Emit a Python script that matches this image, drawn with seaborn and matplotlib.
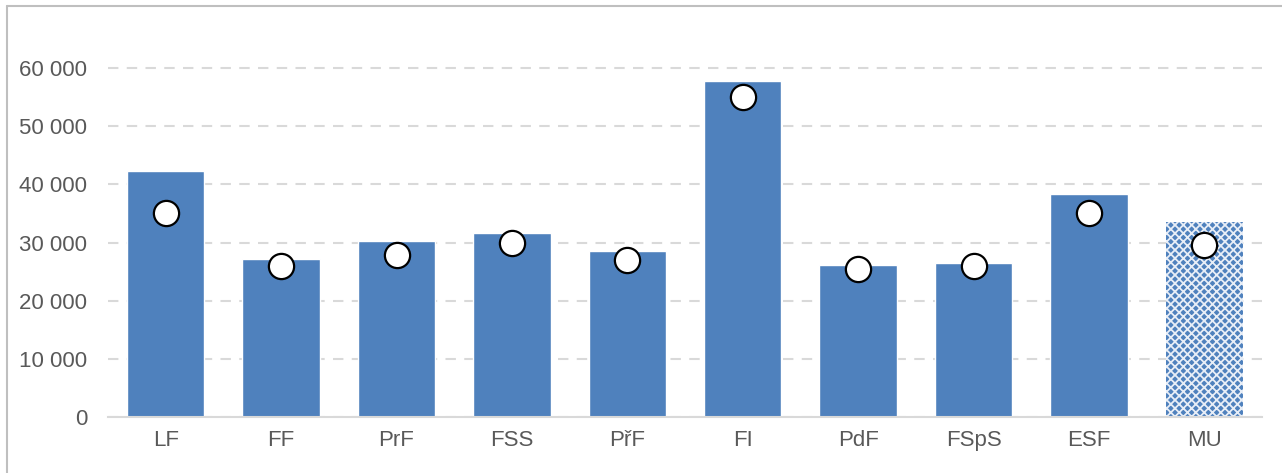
import matplotlib

matplotlib.use("Agg")

import matplotlib.pyplot as plt  # noqa: E402
import pandas as pd  # noqa: E402
import seaborn as sns  # noqa: E402
from matplotlib.lines import Line2D  # noqa: E402
from matplotlib.ticker import FuncFormatter  # noqa: E402

faculties = ["LF", "FF", "PrF", "FSS", "PřF", "FI", "PdF", "FSpS", "ESF", "MU"]
bar_values = [42300, 27100, 30200, 31600, 28500, 57700, 26200, 26400, 38300, 33600]
dot_values = [35000, 26000, 27900, 29900, 27000, 55100, 25400, 26000, 35000, 29500]
y_ticks = [0, 10000, 20000, 30000, 40000, 50000, 60000]

BLUE = "#4F81BD"
TEXT = "#595959"
GRID = "#D9D9D9"

sns.set_theme(style="white")
plt.rcParams["font.family"] = ["Liberation Sans", "DejaVu Sans"]
plt.rcParams["hatch.linewidth"] = 1.3

df = pd.DataFrame({"fac": faculties, "bar": bar_values, "dot": dot_values})

W, H = 1282, 473
fig = plt.figure(figsize=(W / 100, H / 100), dpi=100)
ax_left, ax_right = 108, 1262
ax_bottom_px, ax_top_px = 417, 39
ax = fig.add_axes([ax_left / W, (H - ax_bottom_px) / H,
                   (ax_right - ax_left) / W, (ax_bottom_px - ax_top_px) / H])

sns.barplot(data=df, x="fac", y="bar", color=BLUE, saturation=1, width=0.67,
            ax=ax, zorder=2)
# MU bar gets the checkered fill
mu = ax.patches[-1]
mu.set_hatch("xxxx")
mu.set_edgecolor("#E8EEF7")
mu.set_linewidth(0)

sns.scatterplot(data=df, x="fac", y="dot", s=330, color="white",
                edgecolor="black", linewidth=1.6, ax=ax, zorder=3)

ax.set_xlim(-0.5, len(faculties) - 0.5)
ax.set_ylim(0, 65000)
ax.set_yticks(y_ticks)
ax.yaxis.set_major_formatter(FuncFormatter(lambda v, _: f"{int(v):,}".replace(",", " ")))
ax.yaxis.grid(True, color=GRID, linestyle=(0, (5, 4)), linewidth=1.5, zorder=0)
ax.set_axisbelow(True)
ax.set_xlabel("")
ax.set_ylabel("")
for side in ["top", "right", "left"]:
    ax.spines[side].set_visible(False)
ax.spines["bottom"].set_color(GRID)
ax.spines["bottom"].set_linewidth(1.5)
ax.tick_params(axis="y", length=0, pad=15, labelsize=16, labelcolor=TEXT)
ax.tick_params(axis="x", length=0, pad=9, labelsize=16, labelcolor=TEXT)

# outer chart-area frame (only the top and left edges are inside the picture)
fig.add_artist(Line2D([7 / W, 7 / W], [0, 1 - 6 / H], transform=fig.transFigure,
                      color="#BFBFBF", linewidth=1.5))
fig.add_artist(Line2D([7 / W, 1], [1 - 6 / H, 1 - 6 / H], transform=fig.transFigure,
                      color="#BFBFBF", linewidth=1.5))

fig.savefig("out.png", dpi=100)
